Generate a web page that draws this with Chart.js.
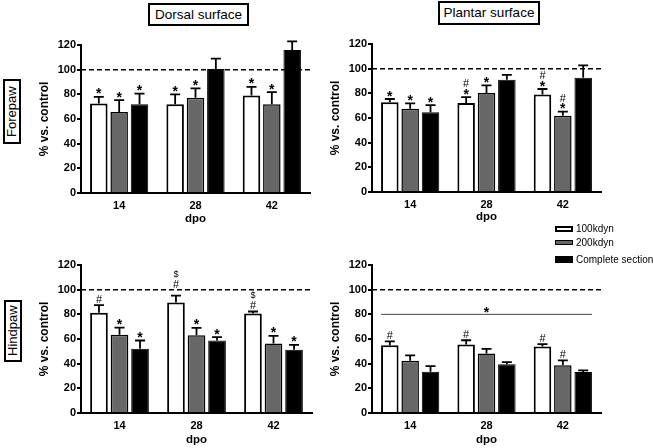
<!DOCTYPE html>
<html>
<head>
<meta charset="utf-8">
<script src="https://cdn.jsdelivr.net/npm/chart.js@4/dist/chart.umd.min.js"></script>
<style>
  body { margin: 0; background: #fff; width: 653px; height: 448px; position: relative; overflow: hidden;
         font-family: Arial, "Liberation Sans", sans-serif; color: #000; }
  canvas { position: absolute; }
  .tag { position: absolute; border: 2px solid #000; background: #fff; box-sizing: border-box;
         font-size: 13.5px; text-align: center; white-space: nowrap; }
  .tag.vert { writing-mode: vertical-rl; transform: rotate(180deg); font-size: 13px; line-height: 14px; }
  .key { position: absolute; font-size: 10px; line-height: 12px; white-space: nowrap; }
  .swatch { position: absolute; box-sizing: border-box; border: 1px solid #000; }
</style>
</head>
<body>
<div class="tag" style="left:148px;top:3px;width:101px;height:23px;line-height:19px;">Dorsal surface</div>
<div class="tag" style="left:438px;top:1px;width:102px;height:24px;line-height:20px;">Plantar surface</div>
<div class="tag vert" style="left:3px;top:79px;width:18px;height:65px;">Forepaw</div>
<div class="tag vert" style="left:4px;top:300px;width:18px;height:62px;">Hindpaw</div>

<canvas id="c1" width="322" height="200" style="left:0;top:30px"></canvas>
<canvas id="c2" width="330" height="200" style="left:323px;top:30px"></canvas>
<canvas id="c3" width="322" height="198" style="left:0;top:250px"></canvas>
<canvas id="c4" width="330" height="198" style="left:323px;top:250px"></canvas>
<div id="legend"></div>

<script>
// ---------- data ----------
const categories = ['14', '28', '42']
const seriesNames = ['100kdyn', '200kdyn', 'Complete section']
const seriesColors = ['#ffffff', '#676767', '#000000']
const yTicks = [0, 20, 40, 60, 80, 100, 120]
const controlLevel = 100

// Forepaw, dorsal surface
const fd100 = [72.6, 72, 79]
const fd100Err = [5.4, 8, 7]
const fd200 = [65.6, 77.2, 72]
const fd200Err = [9.7, 7.6, 9.8]
const fdComplete = [72, 100.5, 116]
const fdCompleteErr = [8.5, 8.5, 7]
const fdMarks = [['*', '*', '*'], ['*', '*', '*'], ['*', '', '']]

// Forepaw, plantar surface
const fp100 = [72.7, 72.2, 79]
const fp100Err = [2.7, 4.8, 4.5]
const fp200 = [67.6, 80.3, 61.9]
const fp200Err = [4.3, 6.2, 3.2]
const fpComplete = [64.6, 91, 92.7]
const fpCompleteErr = [5.9, 3.9, 10]
const fpMarks = [['*', '*#', '*#'], ['*', '*', '*#'], ['*', '', '']]   // stacked bottom-up

// Hindpaw, dorsal surface
const hd100 = [81.2, 89.5, 80.6]
const hd100Err = [6.2, 5.7, 1.7]
const hd200 = [63.4, 63.1, 56.4]
const hd200Err = [5.9, 5.9, 6.2]
const hdComplete = [52, 58.8, 51.2]
const hdCompleteErr = [6.8, 2.7, 4.1]
const hdMarks = [['#', '#$', '#$'], ['*', '*', '*'], ['*', '*', '*']]

// Hindpaw, plantar surface
const hp100 = [55, 55.6, 54]
const hp100Err = [3, 3.4, 1.8]
const hp200 = [42.3, 48.3, 38.8]
const hp200Err = [4.4, 3.7, 3.8]
const hpComplete = [33.4, 39.6, 33.2]
const hpCompleteErr = [4.6, 1.7, 1.3]
const hpMarks = [['#', '#', '#'], ['', '', '#'], ['', '', '']]
const hpBracket = [80]      // "*" over all groups
const hpBracketMark = '*'

// ---------- drawing ----------
const FONT = 'Arial, "Liberation Sans", sans-serif'
const markFonts = { '*': 'bold 14px ' + FONT, '#': '11px ' + FONT, '$': '9px ' + FONT }

function drawMarks(ctx, x, capY, text, lineY) {
    let cursor = capY - 2.5
    for (const ch of text) {
        ctx.font = markFonts[ch]
        const m = ctx.measureText(ch)
        const h = m.actualBoundingBoxAscent + m.actualBoundingBoxDescent
        let bottom = cursor
        // keep the mark off the dashed control line
        if (bottom > lineY - 1.5 && bottom - h < lineY + 1.5) bottom = lineY - 2
        ctx.fillText(ch, x, bottom - m.actualBoundingBoxDescent)
        cursor = bottom - h - 1.5
    }
}

const panelPlugin = {
    id: 'panelExtras',
    beforeDatasetsDraw(chart) {
        const ctx = chart.ctx, area = chart.chartArea
        const y = chart.scales.y.getPixelForValue(controlLevel)
        ctx.save()
        ctx.strokeStyle = '#000'
        ctx.lineWidth = 1.5
        ctx.setLineDash([5, 3])
        ctx.beginPath()
        ctx.moveTo(area.left, y)
        ctx.lineTo(area.right, y)
        ctx.stroke()
        ctx.restore()
    },
    afterDatasetsDraw(chart) {
        const ctx = chart.ctx, yScale = chart.scales.y
        const lineY = yScale.getPixelForValue(controlLevel)
        ctx.save()
        ctx.strokeStyle = '#000'
        ctx.fillStyle = '#000'
        ctx.textAlign = 'center'
        ctx.textBaseline = 'alphabetic'
        chart.data.datasets.forEach((ds, i) => {
            chart.getDatasetMeta(i).data.forEach((bar, j) => {
                const capY = yScale.getPixelForValue(ds.data[j] + ds.errors[j])
                ctx.lineWidth = 1.8
                ctx.beginPath()
                ctx.moveTo(bar.x, bar.y)
                ctx.lineTo(bar.x, capY)
                ctx.moveTo(bar.x - 5, capY)
                ctx.lineTo(bar.x + 5, capY)
                ctx.stroke()
                if (ds.marks[j]) drawMarks(ctx, bar.x, capY, ds.marks[j], lineY)
            })
        })
        const br = chart.options.plugins.panelExtras
        if (br && br.bracket) {
            const first = chart.getDatasetMeta(0).data[0]
            const lastMeta = chart.getDatasetMeta(chart.data.datasets.length - 1).data
            const last = lastMeta[lastMeta.length - 1]
            const by = yScale.getPixelForValue(br.bracket[0])
            ctx.strokeStyle = '#444'
            ctx.lineWidth = 1
            ctx.beginPath()
            ctx.moveTo(first.x - first.width / 2, by)
            ctx.lineTo(last.x + last.width / 2, by)
            ctx.stroke()
            drawMarks(ctx, (first.x + last.x) / 2, by + 1, br.mark, -100)
        }
        ctx.restore()
    }
}

function makePanel(id, values, errors, marks, pad, xHeight, titleBottom, extras) {
    const datasets = values.map((v, i) => ({
        label: seriesNames[i],
        data: v,
        errors: errors[i],
        marks: marks[i],
        backgroundColor: seriesColors[i],
        borderColor: '#000',
        borderWidth: [2, 1.5, 1][i]
    }))
    return new Chart(document.getElementById(id), {
        type: 'bar',
        data: { labels: categories, datasets: datasets },
        plugins: [panelPlugin],
        options: {
            responsive: false,
            animation: false,
            devicePixelRatio: 1,
            layout: { padding: { left: pad[0], right: pad[1], top: pad[2], bottom: 0 } },
            datasets: { bar: { categoryPercentage: 0.8, barPercentage: 0.86 } },
            plugins: {
                legend: { display: false },
                tooltip: { enabled: false },
                panelExtras: extras || {}
            },
            scales: {
                x: {
                    grid: { display: false, drawTicks: false },
                    border: { color: '#000', width: 2 },
                    ticks: { color: '#000', padding: 6, font: { family: FONT, size: 11, weight: 'bold' } },
                    title: { display: true, text: 'dpo', color: '#000', padding: { top: 0, bottom: titleBottom },
                             font: { family: FONT, size: 11.5, weight: 'bold' } },
                    afterFit: s => { s.height = xHeight }
                },
                y: {
                    min: 0, max: 120,
                    afterBuildTicks: s => { s.ticks = yTicks.map(v => ({ value: v })) },
                    grid: { drawOnChartArea: false, tickLength: 4, lineWidth: 2, color: '#000' },
                    border: { color: '#000', width: 2 },
                    ticks: { color: '#000', padding: 1, font: { family: FONT, size: 11, weight: 'bold' } },
                    title: { display: true, text: '% vs. control', color: '#000',
                             font: { family: FONT, size: 12, weight: 'bold' } },
                    afterFit: s => { s.width = 48 }
                }
            }
        }
    })
}

makePanel('c1', [fd100, fd200, fdComplete], [fd100Err, fd200Err, fdCompleteErr], fdMarks, [33, 12, 15], 37, 4)
makePanel('c2', [fp100, fp200, fpComplete], [fp100Err, fp200Err, fpCompleteErr], fpMarks, [1, 52, 14], 38, 6)
makePanel('c3', [hd100, hd200, hdComplete], [hd100Err, hd200Err, hdCompleteErr], hdMarks, [33, 10, 15], 35, 1)
makePanel('c4', [hp100, hp200, hpComplete], [hp100Err, hp200Err, hpCompleteErr], hpMarks, [1, 52, 15], 35, 1,
          { bracket: hpBracket, mark: hpBracketMark })

// legend
const legend = document.getElementById('legend')
const keyTops = [226, 240, 256]
const keyHeights = [6, 5, 7]
seriesNames.forEach((name, i) => {
    const sw = document.createElement('div')
    sw.className = 'swatch'
    sw.style.cssText = 'left:555px;top:' + keyTops[i] + 'px;width:18px;height:' + keyHeights[i] + 'px;background:' +
        seriesColors[i] + ';border-width:' + (i === 0 ? 2 : 1) + 'px'
    legend.appendChild(sw)
    const t = document.createElement('div')
    t.className = 'key'
    t.textContent = name
    t.style.cssText = 'left:576px;top:' + (keyTops[i] + keyHeights[i] / 2 - 6) + 'px'
    legend.appendChild(t)
})
</script>
</body>
</html>
